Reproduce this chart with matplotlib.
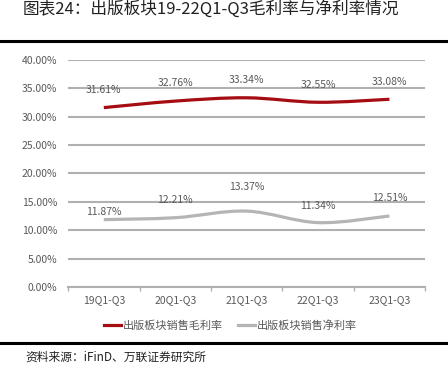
import numpy as np
import matplotlib
matplotlib.use("Agg")
import matplotlib.pyplot as plt
from matplotlib.path import Path
from matplotlib.patches import PathPatch

plt.rcParams["font.family"] = ["Liberation Sans Narrow", "Noto Sans CJK SC", "DejaVu Sans"]

# data
categories = ["19Q1-Q3", "20Q1-Q3", "21Q1-Q3", "22Q1-Q3", "23Q1-Q3"]
gross_margin = [31.61, 32.76, 33.34, 32.55, 33.08]
net_margin = [11.87, 12.21, 13.37, 11.34, 12.51]
series_names = ["出版板块销售毛利率", "出版板块销售净利率"]
yticks = [0, 5, 10, 15, 20, 25, 30, 35, 40]

# label offsets above the line (points, to text centre)
gross_offsets = [12.6, 12.8, 12.6, 12.2, 12.2]
net_offsets = [5.8, 13, 17.3, 12.2, 13]

red = "#a50d12"
grey = "#b5b5b5"
txt = "#595959"


def smooth_path(x, y, t=1 / 6):
    # Catmull-Rom -> cubic bezier segments
    verts = [(x[0], y[0])]
    codes = [Path.MOVETO]
    n = len(x)
    for i in range(n - 1):
        x0, y0 = (x[i - 1], y[i - 1]) if i > 0 else (x[i], y[i])
        x3, y3 = (x[i + 2], y[i + 2]) if i + 2 < n else (x[i + 1], y[i + 1])
        c1 = (x[i] + (x[i + 1] - x0) * t, y[i] + (y[i + 1] - y0) * t)
        c2 = (x[i + 1] - (x3 - x[i]) * t, y[i + 1] - (y3 - y[i]) * t)
        verts += [c1, c2, (x[i + 1], y[i + 1])]
        codes += [Path.CURVE4] * 3
    return Path(verts, codes)


fig = plt.figure(figsize=(4.48, 3.75), dpi=100)
ax = fig.add_axes([0.152, 0.2347, 0.797, 0.6053])

xs = np.arange(len(categories))
for vals, col, offs in [(gross_margin, red, gross_offsets), (net_margin, grey, net_offsets)]:
    ax.add_patch(PathPatch(smooth_path(xs, vals), facecolor="none", edgecolor=col,
                           lw=2.3, capstyle="butt", zorder=3))
    for xi, v, o in zip(xs, vals, offs):
        ax.annotate(f"{v:.2f}%", (xi, v), xytext=(0, o), textcoords="offset points",
                    ha="center", va="center", fontsize=7.5, color=txt, zorder=4)

ax.set_xlim(-0.5, len(categories) - 0.5)
ax.set_ylim(0, 40)
ax.set_yticks(yticks)
ax.set_yticklabels([f"{v:.2f}%" for v in yticks], fontsize=7.5, color=txt)
ax.set_xticks(xs)
ax.set_xticklabels(categories, fontsize=7.5, color=txt)
ax.set_xticks(np.arange(-0.5, len(categories)), minor=True)
ax.tick_params(axis="x", which="major", length=0, pad=6)
ax.tick_params(axis="x", which="minor", length=3, color="#b0b0b0", width=1)
ax.tick_params(axis="y", length=0, pad=8)
ax.grid(axis="y", color="#b0b0b0", lw=1.5)
ax.set_axisbelow(True)
for s in ["top", "right", "left"]:
    ax.spines[s].set_visible(False)
ax.spines["bottom"].set_color("#b0b0b0")
ax.spines["bottom"].set_linewidth(1.5)

handles = [plt.Line2D([], [], color=red, lw=2.3), plt.Line2D([], [], color=grey, lw=2.3)]
fig.legend(handles, series_names, loc="center", bbox_to_anchor=(0.515, 0.133), ncol=2,
           frameon=False, handlelength=1.5, handletextpad=0.15,
           columnspacing=1.4, labelcolor=txt,
           prop={"family": ["Noto Sans CJK SC"], "size": 8})

# frame lines and text
fig.add_artist(plt.Line2D([0, 1], [1 - 41 / 375] * 2, color="black", lw=2.2, transform=fig.transFigure))
fig.add_artist(plt.Line2D([0, 1], [1 - 343 / 375] * 2, color="black", lw=2.2, transform=fig.transFigure))
fig.text(0.05, 1.0, "图表24：出版板块19-22Q1-Q3毛利率与净利率情况", fontsize=12,
         family=["Noto Sans CJK SC"], color="#222222", va="top", ha="left")
fig.text(0.056, 1 - 357 / 375, "资料来源：iFinD、万联证券研究所", fontsize=8.5,
         family=["Noto Sans CJK SC"], style="italic", color="#222222", va="center", ha="left")

fig.savefig("out.png", dpi=100)
